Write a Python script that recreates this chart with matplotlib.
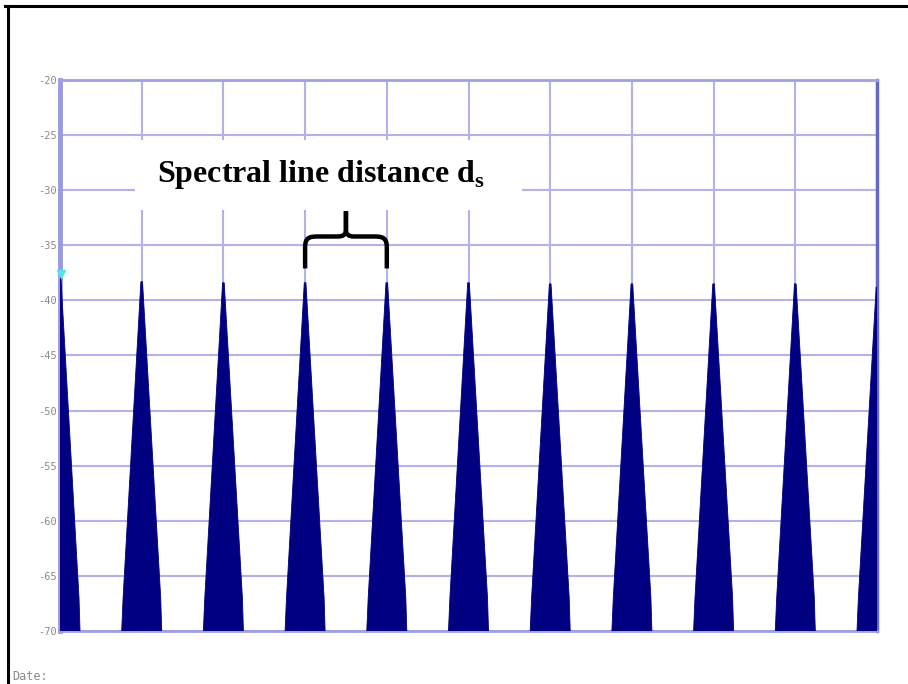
import matplotlib
matplotlib.use("Agg")
import matplotlib.pyplot as plt
from matplotlib.path import Path
from matplotlib.patches import PathPatch, Rectangle
from matplotlib.lines import Line2D

# -----------------------------
# Data
# -----------------------------

peak_pos = [0, 1, 2, 3, 4, 5, 6, 7, 8, 9, 10]
peak_level = [-37.8, -38.3, -38.4, -38.4, -38.4, -38.4, -38.5, -38.5, -38.5, -38.5, -38.8]
floor_level = -70
half_width = 0.245          # half base width of each line, in grid divisions

y_ticks = [-20, -25, -30, -35, -40, -45, -50, -55, -60, -65, -70]
y_labels = ["-20", "-25", "-30", "-35", "-40", "-45", "-50", "-55", "-60", "-65", "-70"]
marker_level = -37.6

label = r"Spectral line distance d$_{\mathregular{s}}$"

# -----------------------------
# Figure
# -----------------------------

W, H = 908, 684
fig = plt.figure(figsize=(W / 100, H / 100), dpi=100)
ax = fig.add_axes([60 / W, 1 - 631 / H, 817 / W, 551 / H])

grid_col = "#b2b2e8"
navy = "#000080"

ax.set_xlim(0, 10)
ax.set_ylim(-70, -20)
ax.set_xticks(range(11))
ax.set_xticklabels([])
ax.set_yticks(y_ticks)
ax.set_yticklabels(y_labels, color="#8a8a8a", fontsize=7.5, family="DejaVu Sans Mono")
ax.tick_params(length=0, pad=2)
ax.grid(True, color=grid_col, lw=1.5, zorder=0)
ax.set_axisbelow(True)

for side in ["top", "bottom"]:
    ax.spines[side].set_color("#a0a0e2")
    ax.spines[side].set_linewidth(2)
ax.spines["left"].set_color("#9a9ae0")
ax.spines["left"].set_linewidth(3.5)
ax.spines["right"].set_color("#6666c4")
ax.spines["right"].set_linewidth(2.5)

# spectral lines as filled triangles
for c, lvl in zip(peak_pos, peak_level):
    xs = [c - half_width, c - half_width * 0.93, c - 0.01, c + 0.01,
          c + half_width * 0.95, c + half_width]
    ys = [floor_level, floor_level + 3, lvl, lvl, floor_level + 3, floor_level]
    ax.fill(xs, ys, color=navy, lw=0.6, zorder=3)

# marker on first line
ax.plot([peak_pos[0] + 0.01], [marker_level], marker="v", color="#4fe6ea",
        ms=6, clip_on=False, zorder=5)

# white box behind the label
ax.add_patch(Rectangle((0.918, -31.8), 4.737, 6.36, facecolor="white",
                       edgecolor="none", zorder=2))
ax.text(1.187, -29.3, label, family="Liberation Serif", weight="bold",
        fontsize=23, color="black", va="baseline", ha="left", zorder=6)

# curly brace between two lines
xl, xr, xm = peak_pos[3], peak_pos[4], (peak_pos[3] + peak_pos[4]) / 2
yb, yh, ytip = -37.1, -34.2, -31.9
verts = [(xl, yb), (xl, yh - 1.0),
         (xl, yh - 0.1), (xl + 0.05, yh), (xl + 0.16, yh),
         (xm - 0.1, yh),
         (xm - 0.03, yh), (xm, yh + 0.2), (xm, yh + 0.6),
         (xm, ytip)]
codes = [Path.MOVETO, Path.LINETO,
         Path.CURVE4, Path.CURVE4, Path.CURVE4,
         Path.LINETO,
         Path.CURVE4, Path.CURVE4, Path.CURVE4,
         Path.LINETO]
left = Path(verts, codes)
right = Path([(2 * xm - x, y) for x, y in verts], codes)
for p in (left, right):
    ax.add_patch(PathPatch(p, facecolor="none", edgecolor="black", lw=3.2,
                           capstyle="butt", zorder=6))

# page border and footer
fig.add_artist(Line2D([5 / W, 1], [1 - 6 / H, 1 - 6 / H], color="black", lw=2.2))
fig.add_artist(Line2D([8 / W, 8 / W], [0, 1 - 6 / H], color="black", lw=2.2))
fig.text(12 / W, 1 - 670 / H, "Date:", color="#8a8a8a", fontsize=8.5,
         family="DejaVu Sans Mono", va="top", ha="left")

fig.savefig("out.png", dpi=100)
